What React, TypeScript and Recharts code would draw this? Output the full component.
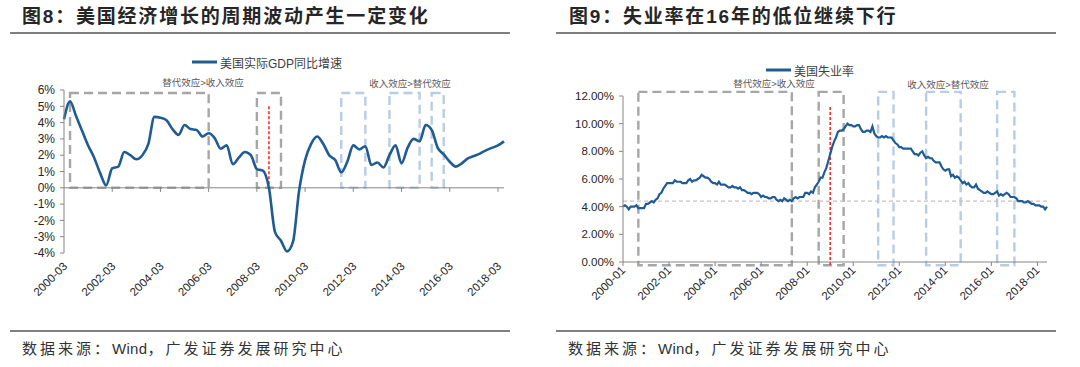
import React from 'react';
import { LineChart, Line, XAxis, YAxis, ReferenceArea, ReferenceLine, Legend } from 'recharts';

const FONT = '"Liberation Sans", "Noto Sans CJK SC", sans-serif';

// quarterly labels 2000-03 ... 2018-06
const quarterLabels: string[] = [];
for (let y = 2000; y <= 2018; y++) {
  for (const m of ['03', '06', '09', '12']) quarterLabels.push(`${y}-${m}`);
}
const gdpDates = quarterLabels.slice(0, 74);

// 美国实际GDP同比增速 (%)
const gdpYoY = [
  4.2, 5.3, 4.4, 3.5, 2.6, 1.85, 0.9, 0.15,
  1.2, 1.3, 2.2, 2.0, 1.75, 2.0, 2.7, 4.35,
  4.3, 4.15, 3.6, 3.25, 3.85, 3.6, 3.55, 3.15,
  3.35, 3.05, 2.4, 2.6, 1.45, 1.85, 2.2, 2.0,
  1.15, 1.05, 0.0, -2.7, -3.25, -3.9, -3.3, -0.2,
  1.7, 2.7, 3.15, 2.7, 2.0, 1.7, 0.95, 1.6,
  2.6, 2.35, 2.55, 1.4, 1.55, 1.25, 2.0, 2.6,
  1.5, 2.45, 3.0, 2.85, 3.85, 3.55, 2.45, 2.05,
  1.6, 1.3, 1.5, 1.8, 1.95, 2.1, 2.3, 2.45,
  2.6, 2.85,
];

// monthly labels 2000-01 ... 2018-06
const monthLabels: string[] = [];
for (let y = 2000; y <= 2018; y++) {
  for (let m = 1; m <= 12; m++) monthLabels.push(`${y}-${m < 10 ? '0' + m : m}`);
}
const ueDates = monthLabels.slice(0, 222);

// 美国失业率 (%)
const ueRate = [
  4.0, 4.1, 4.0, 3.8, 4.0, 4.0, 4.0, 4.1, 3.9, 3.9, 3.9, 3.9,
  4.2, 4.2, 4.3, 4.4, 4.3, 4.5, 4.6, 4.9, 5.0, 5.3, 5.5, 5.7,
  5.7, 5.7, 5.7, 5.9, 5.8, 5.8, 5.8, 5.7, 5.7, 5.7, 5.9, 6.0,
  5.8, 5.9, 5.9, 6.0, 6.1, 6.3, 6.2, 6.1, 6.1, 6.0, 5.8, 5.7,
  5.7, 5.6, 5.8, 5.6, 5.6, 5.6, 5.5, 5.4, 5.4, 5.5, 5.4, 5.4,
  5.3, 5.4, 5.2, 5.2, 5.1, 5.0, 5.0, 4.9, 5.0, 5.0, 5.0, 4.9,
  4.7, 4.8, 4.7, 4.7, 4.6, 4.6, 4.7, 4.7, 4.5, 4.4, 4.5, 4.4,
  4.6, 4.5, 4.4, 4.5, 4.4, 4.6, 4.7, 4.6, 4.7, 4.7, 4.7, 5.0,
  5.0, 4.9, 5.1, 5.0, 5.4, 5.6, 5.8, 6.1, 6.1, 6.5, 6.8, 7.3,
  7.8, 8.3, 8.7, 9.0, 9.4, 9.5, 9.5, 9.6, 9.8, 10.0, 9.9, 9.9,
  9.8, 9.8, 9.9, 9.9, 9.6, 9.4, 9.4, 9.5, 9.5, 9.4, 9.8, 9.3,
  9.1, 9.0, 9.0, 9.1, 9.0, 9.1, 9.0, 9.0, 9.0, 8.8, 8.6, 8.5,
  8.3, 8.3, 8.2, 8.2, 8.2, 8.2, 8.2, 8.0, 7.8, 7.8, 7.7, 7.9,
  8.0, 7.7, 7.5, 7.6, 7.5, 7.5, 7.3, 7.2, 7.2, 7.2, 6.9, 6.7,
  6.6, 6.7, 6.7, 6.2, 6.3, 6.1, 6.2, 6.1, 5.9, 5.7, 5.8, 5.6,
  5.7, 5.5, 5.4, 5.4, 5.6, 5.3, 5.2, 5.1, 5.0, 5.0, 5.1, 5.0,
  4.9, 4.9, 5.0, 5.1, 4.8, 4.9, 4.8, 4.9, 5.0, 4.9, 4.7, 4.7,
  4.7, 4.6, 4.4, 4.4, 4.4, 4.3, 4.3, 4.4, 4.3, 4.2, 4.2, 4.1,
  4.1, 4.1, 4.0, 4.0, 3.8, 4.0,
];

const gdpTicks = [-4, -3, -2, -1, 0, 1, 2, 3, 4, 5, 6];
const ueTicks = [0, 2, 4, 6, 8, 10, 12];

// dashed boxes: [start, end, kind]
const gdpBoxes: [string, string, string][] = [
  ['2000-06', '2006-03', 'gray'],
  ['2008-03', '2009-03', 'gray'],
  ['2011-09', '2012-09', 'blue'],
  ['2013-09', '2014-12', 'blue'],
  ['2015-06', '2015-12', 'blue'],
];
const gdpMarker = '2008-09';

const ueBoxes: [string, string, string][] = [
  ['2000-09', '2007-05', 'gray'],
  ['2008-07', '2009-08', 'gray'],
  ['2011-02', '2011-10', 'blue'],
  ['2013-03', '2014-09', 'blue'],
  ['2016-04', '2017-01', 'blue'],
];
const ueMarker = '2009-01';
const ueBaseline = 4.4;

const gdpData = gdpDates.map((date, i) => ({ date, gdp: gdpYoY[i] }));
const ueData = ueDates.map((date, i) => ({ date, ue: ueRate[i] }));
const gdpTickDates = gdpDates.filter((_, i) => i % 8 === 0);

const LINE = '#1f5c94';
const AXIS = '#868686';
const BOX = { gray: '#a6a6a6', blue: '#b8cce4' } as Record<string, string>;

const SlantTick = (props: any) => {
  const { x, y, payload, ox, oy } = props;
  const ax = x + ox;
  const ay = y + oy;
  return (
    <text x={ax} y={ay} transform={`rotate(-45 ${ax} ${ay})`} textAnchor="end"
      fontSize={11.5} fill="#262626" fontFamily={FONT}>
      {payload.value}
    </text>
  );
};

const LegendItem = ({ label }: { label: string }) => (
  <div style={{ display: 'flex', justifyContent: 'center', alignItems: 'center', height: 16, fontFamily: FONT, fontSize: 12, color: '#404040' }}>
    <svg width={26} height={6} style={{ marginRight: 2 }}>
      <line x1={0} y1={3} x2={25} y2={3} stroke={LINE} strokeWidth={3} />
    </svg>
    <span>{label}</span>
  </div>
);

const boxStyle = (kind: string) => ({
  fill: 'none',
  stroke: BOX[kind],
  strokeWidth: 2.4,
  strokeDasharray: '9 5',
});

const textAbs = (left: number, top: number, extra: React.CSSProperties = {}): React.CSSProperties => ({
  position: 'absolute', left, top, whiteSpace: 'nowrap', fontFamily: FONT, ...extra,
});

const Note = ({ cx, top, children }: { cx: number; top: number; children: React.ReactNode }) => (
  <div style={textAbs(cx - 60, top, { width: 120, textAlign: 'center', fontSize: 9.5, color: '#595959', lineHeight: '12px' })}>
    {children}
  </div>
);

const Source = ({ left }: { left: number }) => (
  <div style={textAbs(left, 339, { fontSize: 15, color: '#333', lineHeight: '20px' })}>
    <span style={{ letterSpacing: 3 }}>数据来源：</span>
    <span style={{ letterSpacing: 0.3 }}>Wind</span>
    <span style={{ letterSpacing: 3 }}>，广发证券发展研究中心</span>
  </div>
);

export default function App() {
  return (
    <div style={{ position: 'absolute', left: 0, top: 0, width: 1080, height: 367, background: '#fff', overflow: 'hidden' }}>
      {/* titles */}
      <div style={textAbs(22, 5, { fontSize: 19, fontWeight: 'bold', letterSpacing: 1.8, color: '#262626', lineHeight: '24px' })}>
        图8：美国经济增长的周期波动产生一定变化
      </div>
      <div style={textAbs(569, 5, { fontSize: 19, fontWeight: 'bold', letterSpacing: 1.8, color: '#262626', lineHeight: '24px' })}>
        图9：失业率在16年的低位继续下行
      </div>
      <div style={{ position: 'absolute', left: 10, top: 32, width: 500, height: 2, background: '#7f7f7f' }} />
      <div style={{ position: 'absolute', left: 556, top: 32, width: 500, height: 2, background: '#7f7f7f' }} />

      {/* left chart */}
      <div style={{ position: 'absolute', left: 0, top: 0 }}>
        <LineChart width={540} height={367} data={gdpData} margin={{ top: 90, right: 36, bottom: 64, left: 14 }}>
          <XAxis dataKey="date" interval={7} axisLine={false} tickLine={false} height={50}
            tick={(p: any) => <SlantTick {...p} ox={4} oy={6} />} />
          <YAxis domain={[-4, 6]} ticks={gdpTicks} interval={0} width={50} allowDataOverflow
            axisLine={{ stroke: AXIS }} tickLine={{ stroke: AXIS }} tickSize={4} tickMargin={5}
            tick={{ fontSize: 12, fill: '#262626', fontFamily: FONT }}
            tickFormatter={(v: number) => `${v}%`} />
          <ReferenceLine y={0} stroke={AXIS} strokeWidth={1} />
          {gdpTickDates.slice(1).map((d) => (
            <ReferenceLine key={d} segment={[{ x: d, y: 0 }, { x: d, y: -0.25 }]} stroke={AXIS} ifOverflow="visible" />
          ))}
          {gdpBoxes.map(([a, b, kind]) => (
            <ReferenceArea key={a} x1={a} x2={b} y1={0} y2={5.82} ifOverflow="visible" {...boxStyle(kind)} />
          ))}
          <ReferenceLine segment={[{ x: gdpMarker, y: 5.0 }, { x: gdpMarker, y: 0 }]}
            stroke="#ff2a2a" strokeWidth={1.6} strokeDasharray="3 2" ifOverflow="visible" />
          <Legend verticalAlign="middle" align="center" layout="horizontal"
            wrapperStyle={{ top: 54, left: -3, width: 540 }}
            content={() => <LegendItem label="美国实际GDP同比增速" />} />
          <Line type="monotone" dataKey="gdp" stroke={LINE} strokeWidth={2.6} dot={false} isAnimationActive={false} />
        </LineChart>
      </div>

      {/* right chart */}
      <div style={{ position: 'absolute', left: 540, top: 0 }}>
        <LineChart width={540} height={367} data={ueData} margin={{ top: 96, right: 33, bottom: 55, left: 23 }}>
          <XAxis dataKey="date" interval={23} height={50}
            axisLine={{ stroke: AXIS }} tickLine={{ stroke: AXIS }} tickSize={4}
            tick={(p: any) => <SlantTick {...p} ox={3} oy={3} />} />
          <YAxis domain={[0, 12]} ticks={ueTicks} interval={0} width={60}
            axisLine={{ stroke: AXIS }} tickLine={{ stroke: AXIS }} tickSize={4} tickMargin={5}
            tick={{ fontSize: 11.5, fill: '#262626', fontFamily: FONT }}
            tickFormatter={(v: number) => `${v.toFixed(2)}%`} />
          <ReferenceLine y={ueBaseline} stroke="#cdbfbf" strokeWidth={1.2} strokeDasharray="4 3" />
          {ueBoxes.map(([a, b, kind]) => (
            <ReferenceArea key={a} x1={a} x2={b} y1={-0.24} y2={12.3} ifOverflow="visible" {...boxStyle(kind)} />
          ))}
          <ReferenceLine segment={[{ x: ueMarker, y: 11.2 }, { x: ueMarker, y: -0.24 }]}
            stroke="#ff2a2a" strokeWidth={1.6} strokeDasharray="3 2" ifOverflow="visible" />
          <Legend verticalAlign="middle" align="center" layout="horizontal"
            wrapperStyle={{ top: 62, left: 0, width: 540 }}
            content={() => <LegendItem label="美国失业率" />} />
          <Line type="linear" dataKey="ue" stroke={LINE} strokeWidth={2.2} dot={false} isAnimationActive={false} />
        </LineChart>
      </div>

      {/* annotations */}
      <Note cx={203} top={77}>替代效应&gt;收入效应</Note>
      <Note cx={410} top={78}>收入效应&gt;替代效应</Note>
      <Note cx={774} top={78}>替代效应&gt;收入效应</Note>
      <Note cx={948} top={79}>收入效应&gt;替代效应</Note>

      {/* footers */}
      <div style={{ position: 'absolute', left: 10, top: 330, width: 500, height: 2, background: '#7f7f7f' }} />
      <div style={{ position: 'absolute', left: 556, top: 330, width: 500, height: 2, background: '#7f7f7f' }} />
      <Source left={22} />
      <Source left={568} />
    </div>
  );
}
